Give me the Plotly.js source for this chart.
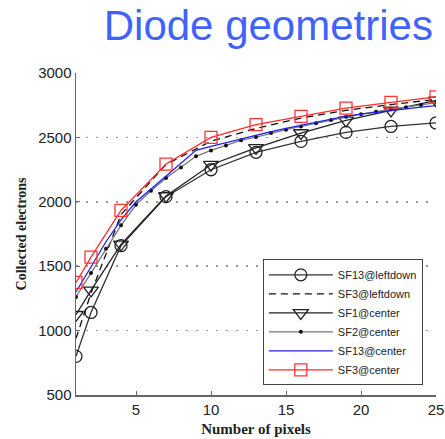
<!DOCTYPE html>
<html>
<head>
<meta charset="utf-8">
<script src="https://cdn.plot.ly/plotly-3.0.1.min.js"></script>
<style>html,body{margin:0;padding:0;background:#fff;}#chart{width:445px;height:439px;}</style>
</head>
<body>
<div id="chart"></div>
<script>
// Data
const xCoarse = [1, 2, 4, 7, 10, 13, 16, 19, 22, 25];
const xFine = [1,2,3,4,5,6,7,8,9,10,11,12,13,14,15,16,17,18,19,20,21,22,23,24,25];

const sf13Leftdown = [800, 1141, 1659, 2040, 2249, 2384, 2469, 2539, 2585, 2612];
const sf3Leftdown  = [940, 1290, 1900, 2290, 2470, 2570, 2650, 2710, 2755, 2795];
const sf1Center    = [1123, 1312, 1670, 2045, 2288, 2418, 2534, 2632, 2710, 2787];
const sf2Center    = [1261,1447,1636,1817,1977,2086,2185,2267,2353,2399,2438,2477,2503,2534,2560,2585,2610,2635,2660,2680,2700,2718,2735,2752,2770];
const sf13Center   = [1300,1500,1690,1860,2000,2100,2200,2300,2400,2430,2460,2490,2520,2545,2570,2595,2620,2645,2665,2680,2695,2710,2722,2735,2746];
const sf3Center    = [1374, 1571, 1933, 2293, 2500, 2599, 2663, 2728, 2772, 2814];

const seriesNames = ['SF13@leftdown', 'SF3@leftdown', 'SF1@center', 'SF2@center', 'SF13@center', 'SF3@center'];
const xTicks = [5, 10, 15, 20, 25];
const yTicks = [500, 1000, 1500, 2000, 2500, 3000];

const traces = [
  {x: xCoarse, y: sf13Leftdown, name: seriesNames[0], mode: 'lines+markers',
   line: {color: '#333333', width: 1.3},
   marker: {symbol: 'circle-open', size: 12, color: '#222222', line: {width: 1.3}}},
  {x: xCoarse, y: sf3Leftdown, name: seriesNames[1], mode: 'lines',
   line: {color: '#111111', width: 1.3, dash: '7px,5px'}},
  {x: xCoarse, y: sf1Center, name: seriesNames[2], mode: 'lines+markers',
   line: {color: '#222222', width: 1.3},
   marker: {symbol: 'triangle-down-open', size: 13, color: '#222222', line: {width: 1.3}}},
  {x: xFine, y: sf2Center, name: seriesNames[3], mode: 'lines+markers',
   line: {color: '#777777', width: 1.3},
   marker: {symbol: 'circle', size: 4, color: '#111111'}},
  {x: xFine, y: sf13Center, name: seriesNames[4], mode: 'lines',
   line: {color: '#2020ee', width: 1.3}},
  {x: xCoarse, y: sf3Center, name: seriesNames[5], mode: 'lines+markers',
   line: {color: '#ff2a2a', width: 1.3},
   marker: {symbol: 'square-open', size: 12, color: '#ff3333', line: {width: 1.3}}}
];

const layout = {
  width: 445, height: 439,
  margin: {l: 76, r: 9, t: 73, b: 44},
  paper_bgcolor: '#ffffff', plot_bgcolor: '#ffffff',
  showlegend: true,
  title: {
    text: 'Diode geometries',
    font: {family: 'Liberation Sans, Arial, sans-serif', size: 42, color: '#4063ff'},
    x: 0.603, xanchor: 'center', xref: 'container',
    y: 0.943, yanchor: 'middle', yref: 'container'
  },
  xaxis: {
    range: [1, 25], tickvals: xTicks, ticktext: xTicks.map(String),
    showgrid: false, zeroline: false,
    showline: true, linecolor: '#666666', linewidth: 1.5,
    ticks: 'inside', ticklen: 4, tickcolor: '#666666',
    tickfont: {family: 'Liberation Sans, Arial, sans-serif', size: 15, color: '#222222'},
    title: {text: 'Number of pixels', standoff: 7,
      font: {family: 'Liberation Serif, serif', size: 15, color: '#222222', weight: 'bold'}}
  },
  yaxis: {
    range: [500, 3000], tickvals: yTicks, ticktext: yTicks.map(String),
    showgrid: true, gridcolor: '#999999', gridwidth: 1.5, griddash: '2px,8px',
    zeroline: false,
    showline: true, linecolor: '#666666', linewidth: 1.5,
    ticks: 'inside', ticklen: 4, tickcolor: '#666666',
    tickfont: {family: 'Liberation Sans, Arial, sans-serif', size: 15, color: '#222222'},
    title: {text: 'Collected electrons', standoff: 8,
      font: {family: 'Liberation Serif, serif', size: 14, color: '#222222', weight: 'bold'}}
  },
  legend: {
    x: 0.519, y: 0.03, xanchor: 'left', yanchor: 'bottom',
    bgcolor: '#ffffff', bordercolor: '#444444', borderwidth: 1,
    font: {family: 'Liberation Sans, Arial, sans-serif', size: 11, color: '#222222'},
    tracegroupgap: 0, itemwidth: 64
  }
};

Plotly.newPlot('chart', traces, layout, {displayModeBar: false, staticPlot: true});
</script>
</body>
</html>
